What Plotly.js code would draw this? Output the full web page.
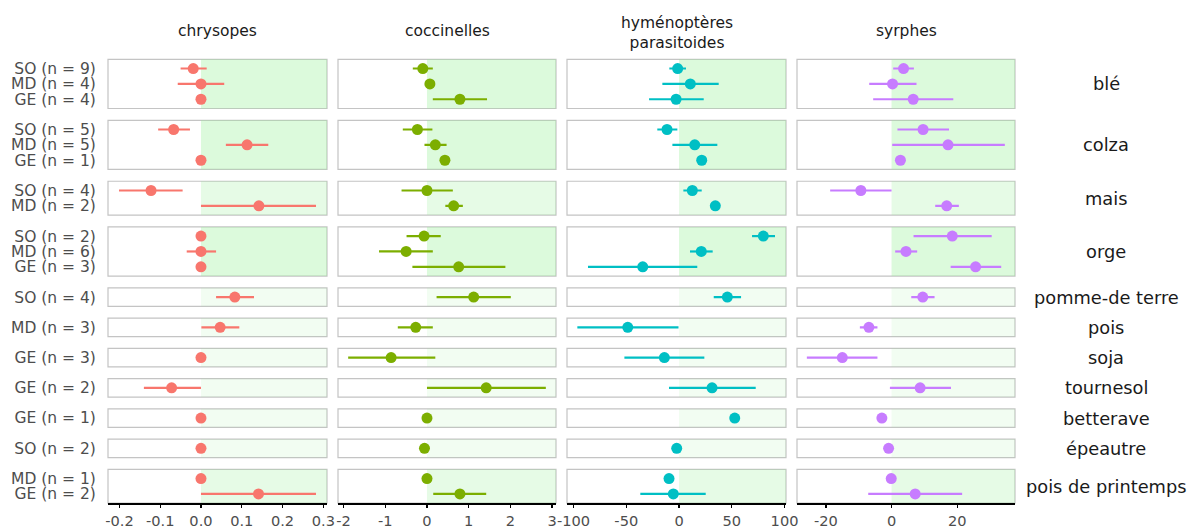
<!DOCTYPE html>
<html><head><meta charset="utf-8">
<script src="https://cdn.plot.ly/plotly-3.0.1.min.js"></script>
<style>html,body{margin:0;padding:0;background:#fff}</style>
</head><body><div id="chart" style="width:1193px;height:529px"></div>
<script>
// ---------- data ----------
const taxa = ['chrysopes', 'coccinelles', 'hyménoptères<br>parasitoides', 'syrphes'];
const crops = ['blé', 'colza', 'mais', 'orge', 'pomme-de terre', 'pois', 'soja', 'tournesol', 'betterave', 'épeautre', 'pois de printemps'];
const rowCrop = ['blé','blé','blé','colza','colza','colza','mais','mais','orge','orge','orge',
  'pomme-de terre','pois','soja','tournesol','betterave','épeautre','pois de printemps','pois de printemps'];
const rowLabel = ['SO (n = 9)','MD (n = 4)','GE (n = 4)','SO (n = 5)','MD (n = 5)','GE (n = 1)',
  'SO (n = 4)','MD (n = 2)','SO (n = 2)','MD (n = 6)','GE (n = 3)','SO (n = 4)','MD (n = 3)',
  'GE (n = 3)','GE (n = 2)','GE (n = 1)','SO (n = 2)','MD (n = 1)','GE (n = 2)'];

const chrysEst = [-0.019, 0, 0, -0.067, 0.113, 0, -0.1225, 0.142, 0, 0, 0, 0.083, 0.047, 0, -0.072, 0, 0, 0, 0.141];
const chrysLo  = [-0.050, -0.057, null, -0.105, 0.061, null, -0.201, 0.0, null, -0.035, null, 0.037, 0.001, null, -0.140, null, null, null, 0.0];
const chrysHi  = [0.014, 0.057, null, -0.027, 0.165, null, -0.045, 0.282, null, 0.037, null, 0.130, 0.094, null, 0.0, null, null, null, 0.282];

const coccEst = [-0.10, 0.07, 0.79, -0.23, 0.20, 0.43, 0.0, 0.64, -0.07, -0.50, 0.76, 1.12, -0.27, -0.86, 1.42, 0.0, -0.06, 0.0, 0.79];
const coccLo  = [-0.34, null, 0.14, -0.58, -0.06, null, -0.61, 0.44, -0.49, -1.15, -0.35, 0.23, -0.70, -1.89, 0.0, null, null, null, 0.15];
const coccHi  = [0.14, null, 1.44, 0.13, 0.47, null, 0.62, 0.86, 0.33, 0.14, 1.88, 2.01, 0.14, 0.20, 2.85, null, null, null, 1.42];

const hymEst = [-1.3, 10.7, -2.8, -11.4, 14.9, 21.5, 12.6, 34.4, 79.9, 21.1, -34.4, 45.8, -48.6, -13.9, 31.3, 52.8, -2.2, -9.5, -5.4];
const hymLo  = [-9.2, -15.8, -28.4, -20.6, -6.3, null, 4.1, null, 69.2, 10.4, -86.3, 32.9, -96.4, -51.8, -9.5, null, null, null, -36.7];
const hymHi  = [6.6, 37.6, 23.4, -1.6, 36.3, null, 21.5, null, 91.0, 31.9, 17.3, 58.8, -0.5, 24.0, 72.7, null, null, null, 25.3];

const syrEst = [3.65, 0.3, 6.6, 9.6, 17.2, 2.7, -9.35, 16.8, 18.5, 4.4, 25.6, 9.5, -6.9, -15.0, 8.7, -2.95, -0.9, -0.1, 7.2];
const syrLo  = [0.5, -6.8, -5.6, 1.8, 0.2, null, -18.7, 13.3, 6.7, 1.1, 18.0, 6.0, -9.65, -25.8, -0.5, null, null, null, -7.1];
const syrHi  = [6.8, 7.6, 18.8, 17.5, 34.5, null, 0.0, 20.5, 30.5, 7.8, 33.4, 13.1, -4.3, -4.3, 18.1, null, null, null, 21.5];

const xTickVals = [[-0.2,-0.1,0,0.1,0.2,0.3],[-2,-1,0,1,2,3],[-100,-50,0,50,100],[-20,0,20]];
const xTickText = [['-0.2','-0.1','0.0','0.1','0.2','0.3'],['-2','-1','0','1','2','3'],['-100','-50','0','50','100'],['-20','0','20']];

// ---------- styling / geometry ----------
const est = [chrysEst, coccEst, hymEst, syrEst];
const lo = [chrysLo, coccLo, hymLo, syrLo];
const hi = [chrysHi, coccHi, hymHi, syrHi];
const colors = ['#F8766D', '#7CAE00', '#00BFC4', '#C77CFF'];
const W = 1193, H = 529;
const colPx = [[108, 327], [338, 556], [567, 786], [797, 1015]];
const xRanges = [[-0.228, 0.309], [-2.134, 3.094], [-106.2, 101.4], [-28.8, 37.6]];
const topPx = 59.3, unitPx = 15.37, gapPx = 11.8;
const FONT = 'DejaVu Sans';

const traces = [], shapes = [], annotations = [];
const layout = {
  width: W, height: H, margin: {l: 0, r: 0, t: 0, b: 0},
  paper_bgcolor: '#fff', plot_bgcolor: '#fff', showlegend: false,
  font: {family: FONT, color: '#4D4D4D'}
};

let cur = topPx;
crops.forEach((crop, r) => {
  const idx = rowCrop.map((c, i) => c === crop ? i : -1).filter(i => i >= 0);
  const n = idx.length;
  const h = (n - 1 + 1.2) * unitPx;
  const py0 = cur, py1 = cur + h;
  cur = py1 + gapPx;
  const ydom = [1 - py1 / H, 1 - py0 / H];
  const alpha = 1 - Math.pow(1 - 0.12, n);

  annotations.push({
    text: crop, xref: 'paper', yref: 'paper', x: 1106 / W, y: (ydom[0] + ydom[1]) / 2,
    xanchor: 'center', yanchor: 'middle', showarrow: false,
    font: {family: FONT, size: 17.8, color: '#1A1A1A'}
  });

  for (let c = 0; c < 4; c++) {
    const k = r * 4 + c + 1;
    const xs = k === 1 ? '' : String(k);
    const bottom = r === crops.length - 1;
    layout['xaxis' + xs] = {
      domain: [colPx[c][0] / W, colPx[c][1] / W], range: xRanges[c], anchor: 'y' + xs,
      showgrid: false, zeroline: false, fixedrange: true,
      showticklabels: bottom, showline: bottom, linecolor: '#000', linewidth: 2,
      ticks: bottom ? 'outside' : '', ticklen: 3, tickwidth: 1.3, tickcolor: '#000',
      tickvals: xTickVals[c], ticktext: xTickText[c],
      tickfont: {family: FONT, size: 14.6, color: '#4D4D4D'}
    };
    layout['yaxis' + xs] = {
      domain: ydom, range: [-0.6, n - 0.4], anchor: 'x' + xs,
      showgrid: false, zeroline: false, fixedrange: true,
      showticklabels: c === 0, ticks: c === 0 ? 'outside' : '', ticklen: 8, tickcolor: 'rgba(0,0,0,0)',
      tickvals: idx.map((_, j) => n - 1 - j), ticktext: idx.map(i => rowLabel[i]),
      tickfont: {family: FONT, size: 15.5, color: '#4D4D4D'}
    };
    shapes.push({
      type: 'rect', xref: 'x' + xs + ' domain', yref: 'y' + xs + ' domain',
      x0: 0, x1: 1, y0: 0, y1: 1, line: {color: '#C4C4C4', width: 1.2}, fillcolor: 'rgba(0,0,0,0)', layer: 'below'
    });
    shapes.push({
      type: 'rect', xref: 'x' + xs, yref: 'y' + xs + ' domain',
      x0: 0, x1: xRanges[c][1], y0: 0, y1: 1, line: {width: 0},
      fillcolor: 'rgba(144,238,144,' + alpha.toFixed(3) + ')', layer: 'below'
    });
    const e = est[c], l = lo[c], u = hi[c];
    traces.push({
      type: 'scatter', mode: 'markers', xaxis: 'x' + xs, yaxis: 'y' + xs,
      x: idx.map(i => e[i]), y: idx.map((_, j) => n - 1 - j),
      marker: {size: 11, color: colors[c]},
      error_x: {
        type: 'data', symmetric: false,
        array: idx.map(i => u[i] === null ? 0 : u[i] - e[i]),
        arrayminus: idx.map(i => l[i] === null ? 0 : e[i] - l[i]),
        color: colors[c], thickness: 2.2, width: 0
      },
      hoverinfo: 'x+y', cliponaxis: false
    });
  }
});

taxa.forEach((t, c) => {
  const twoLine = t.indexOf('<br>') >= 0;
  annotations.push({
    text: t, xref: 'paper', yref: 'paper', x: (colPx[c][0] + colPx[c][1]) / 2 / W,
    y: 1 - (twoLine ? 32.5 : 31) / H, xanchor: 'center', yanchor: 'middle', showarrow: false,
    font: {family: FONT, size: 15.5, color: '#1A1A1A'}
  });
});

layout.shapes = shapes;
layout.annotations = annotations;
Plotly.newPlot('chart', traces, layout, {displayModeBar: false, staticPlot: true});
</script>
</body></html>
